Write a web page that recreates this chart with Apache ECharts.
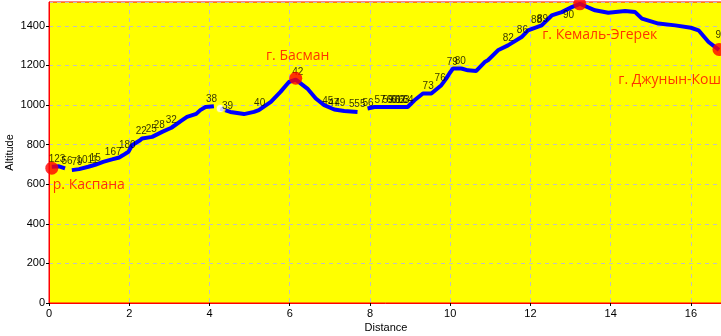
<!DOCTYPE html>
<html>
<head>
<meta charset="utf-8">
<script src="https://cdn.jsdelivr.net/npm/echarts@6/dist/echarts.min.js"></script>
<style>
  html, body { margin: 0; padding: 0; background: #fff; }
  #chart { width: 721px; height: 336px; }
</style>
</head>
<body>
<div id="chart"></div>
<script>
// профиль маршрута: дистанция (км) и высота (м), '-' = разрыв трека
var distance = [0.07, 0.25, 0.4, 0.5, 0.57, 0.75, 0.98, 1.15, 1.35, 1.57, 1.75, 1.85, 1.98, 2.07, 2.27, 2.32, 2.57, 2.82, 3.05, 3.32, 3.44, 3.67, 3.77, 3.9, 4.11, 4.2,
  4.27, 4.52, 4.86, 5.11, 5.23, 5.53, 5.77, 5.98, 6.15, 6.44, 6.65, 6.86, 7.11, 7.36, 7.69, 7.8,
  7.94, 8.11, 8.5, 8.94, 9.11, 9.32, 9.53, 9.78, 9.9, 9.98, 10.07, 10.28, 10.44, 10.65, 10.86, 10.94,
  11.19, 11.44, 11.78, 11.94, 12.28, 12.53, 12.78, 13.03, 13.23, 13.61, 13.94, 14.36, 14.61, 14.78,
  15.19, 15.61, 16.0, 16.19, 16.44, 16.6, 16.7];
var altitude = [688, 690, 680, '-', 671, 676, 688, 698, 713, 725, 735, 747, 764, 797, 822, 831, 839, 864, 885, 923, 940, 955, 974, 990, 994, '-',
  982, 965, 954, 965, 974, 1016, 1066, 1116, 1128, 1083, 1033, 999, 977, 970, 965, '-',
  982, 990, 990, 990, 1024, 1058, 1058, 1100, 1133, 1159, 1184, 1184, 1175, 1172, 1217, 1226,
  1276, 1301, 1343, 1377, 1402, 1452, 1469, 1494, 1511, 1478, 1466, 1474, 1469, 1436,
  1411, 1402, 1390, 1377, 1318, 1293, 1278];

// вершины и реки
var peakNames = ['р. Каспана', 'г. Басман', 'г. Кемаль-Эгерек', 'г. Джунын-Кош'];
var peakDist = [0.07, 6.15, 13.23, 16.7];
var peakAlt = [681, 1135, 1511, 1280];

// номера путевых точек
var wptNames = ['123', '56', '79', '1011', '15', '167', '180', '22', '25', '28', '32', '38', '39', '40', '42',
  '45', '47', '49', '5', '55', '56', '57', '59', '60', '61', '62', '63', '64', '73', '76', '79', '80',
  '82', '86', '88', '89', '90', '91'];
var wptDist = [0.2, 0.45, 0.7, 0.95, 1.15, 1.6, 1.95, 2.3, 2.55, 2.75, 3.05, 4.05, 4.45, 5.25, 6.2,
  6.95, 7.1, 7.25, 7.55, 7.75, 7.95, 8.25, 8.45, 8.55, 8.65, 8.75, 8.85, 8.95, 9.45, 9.75, 10.05, 10.25,
  11.45, 11.8, 12.15, 12.3, 12.95, 16.75];
var wptAlt = [690, 680, 675, 688, 698, 727, 760, 830, 840, 860, 885, 994, 960, 975, 1130,
  985, 975, 972, 966, 968, 975, 990, 990, 990, 990, 990, 990, 990, 1058, 1100, 1180, 1184,
  1300, 1343, 1395, 1400, 1420, 1318];

var chart = echarts.init(document.getElementById('chart'), null, { renderer: 'canvas' });

var lineData = distance.map(function (d, i) { return [d, altitude[i]]; });
var wptData = wptDist.map(function (d, i) { return [d, wptAlt[i], wptNames[i]]; });

// смещения подписей вершин
var peakLabel = [
  { align: 'left', offset: [1, 17] },
  { align: 'center', offset: [2, -22] },
  { align: 'center', offset: [20, 31] },
  { align: 'right', offset: [2, 30] }
];
var peakData = peakDist.map(function (d, i) {
  return {
    value: [d, peakAlt[i]],
    name: peakNames[i],
    label: { align: peakLabel[i].align, offset: peakLabel[i].offset }
  };
});

var axisFont = { fontFamily: 'Liberation Sans', fontSize: 11, color: '#000' };

var option = {
  animation: false,
  grid: {
    left: 49, top: 2, right: -2, bottom: 33,
    outerBoundsMode: 'none', containLabel: false,
    show: true, backgroundColor: '#ffff00', borderColor: '#ff0000', borderWidth: 1
  },
  xAxis: {
    type: 'value', min: 0, max: 16.8, interval: 2,
    name: 'Distance', nameLocation: 'middle', nameGap: 19, nameMoveOverlap: false,
    nameTextStyle: axisFont,
    axisLine: { show: true, lineStyle: { color: '#ff0000' } },
    axisTick: { show: true, length: 3, lineStyle: { color: '#000' } },
    axisLabel: Object.assign({ margin: 5, showMaxLabel: false }, axisFont),
    splitLine: { show: true, lineStyle: { color: '#c0c0c0', type: [4, 4] } }
  },
  yAxis: {
    type: 'value', min: 0, max: 1520, interval: 200,
    name: 'Altitude', nameLocation: 'middle', nameGap: 34, nameMoveOverlap: false,
    nameTextStyle: axisFont,
    axisLine: { show: true, lineStyle: { color: '#ff0000' } },
    axisTick: { show: true, length: 3, lineStyle: { color: '#000' } },
    axisLabel: Object.assign({ margin: 4, showMaxLabel: false, formatter: function (v) { return String(v); } }, axisFont),
    splitLine: { show: true, lineStyle: { color: '#c0c0c0', type: [4, 4] } }
  },
  series: [
    {
      type: 'line', data: lineData, showSymbol: false, connectNulls: false,
      lineStyle: { color: '#0000ff', width: 4 }, z: 2
    },
    {
      type: 'scatter', data: wptData, symbolSize: 0, z: 3,
      label: {
        show: true, position: 'top', distance: 2,
        formatter: function (p) { return p.value[2]; },
        fontFamily: 'Liberation Sans', fontSize: 10, color: '#000'
      }
    },
    {
      type: 'scatter', data: [[4.27, 982]], symbol: 'emptyCircle', symbolSize: 9, z: 3,
      itemStyle: { color: '#ffff00', borderColor: '#000', borderWidth: 1 }
    },
    {
      type: 'scatter', data: peakData, symbolSize: 13, z: 4,
      itemStyle: { color: '#ff0000' },
      label: {
        show: true, position: 'inside', verticalAlign: 'middle',
        formatter: '{b}', fontFamily: 'Open Sans', fontSize: 14, color: '#ff0000'
      }
    }
  ]
};

chart.setOption(option);
</script>
</body>
</html>
